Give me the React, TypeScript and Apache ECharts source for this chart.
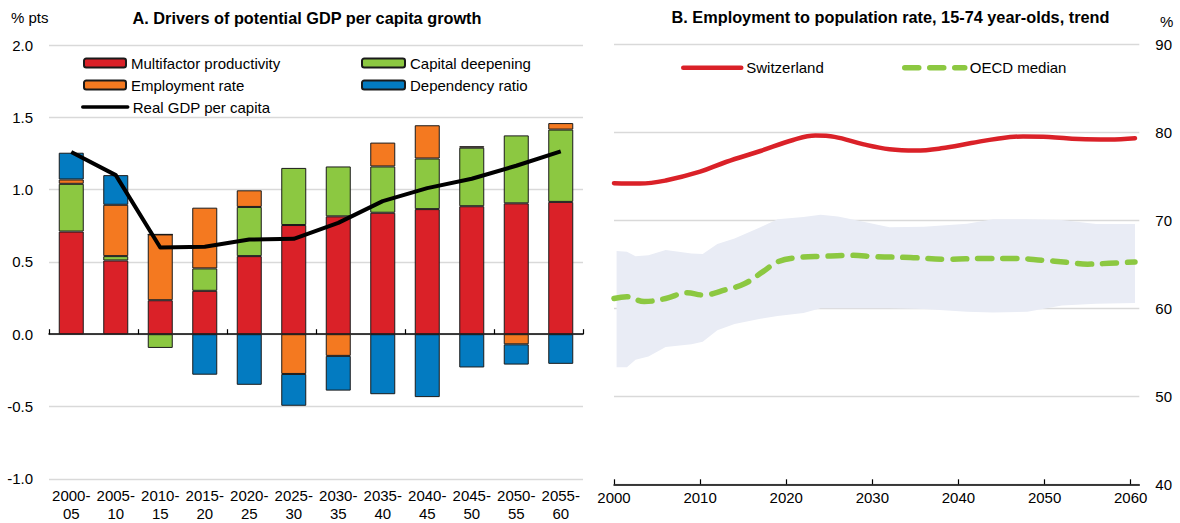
import React, { useEffect, useRef } from 'react';
import * as echarts from 'echarts';

// ---------- Panel A data ----------
const periods = ['2000-05', '2005-10', '2010-15', '2015-20', '2020-25', '2025-30', '2030-35', '2035-40', '2040-45', '2045-50', '2050-55', '2055-60'];
const mfp = [0.71, 0.51, 0.235, 0.30, 0.54, 0.755, 0.815, 0.84, 0.865, 0.885, 0.905, 0.915];
const capital = [0.33, 0.03, -0.095, 0.155, 0.34, 0.395, 0.345, 0.32, 0.35, 0.405, 0.47, 0.50];
const employment = [0.03, 0.355, 0.455, 0.42, 0.115, -0.275, -0.15, 0.165, 0.23, 0.01, -0.07, 0.045];
const dependency = [0.185, 0.205, 0, -0.28, -0.35, -0.22, -0.24, -0.415, -0.435, -0.23, -0.14, -0.205];
const gdpPerCapita = [1.26, 1.10, 0.60, 0.605, 0.655, 0.66, 0.77, 0.92, 1.01, 1.075, 1.165, 1.265];
const leftTicks = [-1, -0.5, 0, 0.5, 1, 1.5, 2];

// ---------- Panel B data ----------
const swissYears = [2000, 2003, 2006, 2010, 2013, 2017, 2020.8, 2023.4, 2025.6, 2029, 2032, 2035, 2038, 2041.5, 2044.5, 2047.5, 2050.5, 2054, 2057.5, 2060.5];
const swissValues = [74.2, 74.15, 74.5, 75.5, 76.6, 77.85, 79.1, 79.6, 79.45, 78.6, 78.05, 77.9, 78.15, 78.75, 79.25, 79.5, 79.45, 79.2, 79.15, 79.3];
const oecdYears = [2000, 2001.5, 2003.5, 2006, 2008.5, 2010.3, 2013, 2015.2, 2017.3, 2019.1, 2021.3, 2024.3, 2027.4, 2030.4, 2034.4, 2038.7, 2043, 2046.6, 2049.7, 2052.7, 2055, 2057.5, 2060.5];
const oecdValues = [61.1, 61.3, 60.75, 61.1, 61.75, 61.5, 62.1, 62.8, 64.15, 65.3, 65.75, 65.9, 66.0, 65.85, 65.75, 65.55, 65.65, 65.65, 65.45, 65.2, 65.0, 65.1, 65.25];
const bandYears = [2000.3, 2001.5, 2002.5, 2004, 2006, 2009, 2010.3, 2012, 2014, 2017, 2019, 2022, 2024, 2026, 2028, 2032, 2036, 2041, 2044, 2048, 2052, 2056, 2060.5];
const bandUpper = [66.5, 66.4, 65.9, 66.0, 66.6, 66.2, 66.15, 67.3, 67.9, 69.2, 70.1, 70.35, 70.6, 70.4, 70.0, 69.2, 69.25, 69.6, 70.1, 70.1, 70.0, 69.55, 69.55];
const bandLower = [53.3, 53.3, 54.15, 54.5, 55.6, 55.9, 56.2, 57.5, 58.2, 58.8, 59.1, 59.45, 60.0, 60.0, 60.0, 60.0, 59.9, 59.6, 59.5, 59.6, 60.3, 60.5, 60.6];
const yearTicks = [2000, 2010, 2020, 2030, 2040, 2050, 2060];

const FONT = '"Liberation Sans Narrow", "Arial Narrow", "Liberation Sans", Arial, sans-serif';
const RED = '#DA2128';
const GREEN = '#8CC841';
const ORANGE = '#F47920';
const BLUE = '#037BC1';
const BAND = '#E9ECF5';
const GRID = '#D9D9D9';
const FS = 15;
const TFS = 16.3;
const GREEN_DASH = [14, 11];

function buildOption(): any {
  const barBase = (name: string, data: number[], color: string) => ({
    name,
    type: 'bar',
    stack: 'drivers',
    xAxisIndex: 0,
    yAxisIndex: 0,
    barWidth: 25,
    data,
    itemStyle: { color, borderColor: '#1a1a1a', borderWidth: 1 },
  });
  const legendBase = (name: string, left: number, top: number, w: number, line?: any) => ({
    data: [name],
    left,
    top,
    padding: 0,
    itemWidth: w,
    itemHeight: 9,
    selectedMode: false,
    ...(line
      ? { itemStyle: { color: 'rgba(0,0,0,0)', borderWidth: 0, opacity: 0 }, lineStyle: line }
      : {}),
    textStyle: { fontFamily: FONT, fontSize: FS, color: '#000', lineHeight: 18 },
  });
  return {
    animation: false,
    backgroundColor: '#fff',
    textStyle: { fontFamily: FONT },
    grid: [
      { left: 49, top: 45, width: 534, height: 433.8 },
      { left: 614, top: 44, width: 525.3, height: 440.3 },
    ],
    legend: [
      legendBase('Multifactor productivity', 83, 54, 42),
      legendBase('Employment rate', 83, 76, 42),
      legendBase('Real GDP per capita', 81, 98, 45, { color: '#000', width: 3.5, type: 'solid', cap: 'round' }),
      legendBase('Capital deepening', 361, 54, 43),
      legendBase('Dependency ratio', 361, 76, 43),
      legendBase('Switzerland', 681, 58.7, 58, { color: RED, width: 4.5, type: 'solid', cap: 'round' }),
      legendBase('OECD median', 902, 58.7, 60, { color: GREEN, width: 5.5, type: GREEN_DASH, cap: 'round' }),
    ],
    xAxis: [
      {
        gridIndex: 0,
        type: 'category',
        data: periods,
        position: 'bottom',
        axisLine: { show: false, onZero: false },
        axisTick: { show: false },
        splitLine: { show: false },
        axisLabel: {
          interval: 0,
          margin: 8,
          color: '#000',
          fontFamily: FONT,
          fontSize: FS,
          lineHeight: 17.6,
          formatter: (v: string) => v.replace('-', '-\n'),
        },
      },
      {
        gridIndex: 0,
        type: 'category',
        data: periods,
        position: 'bottom',
        axisLine: { show: true, onZero: true, lineStyle: { color: '#000', width: 1.5 } },
        axisTick: { show: true, inside: true, length: 5, lineStyle: { color: '#000', width: 1.2 } },
        axisLabel: { show: false },
        splitLine: { show: false },
      },
      {
        gridIndex: 1,
        type: 'value',
        min: 2000,
        max: 2061,
        interval: 10,
        axisLine: { show: true, onZero: false, lineStyle: { color: '#000', width: 1.5 } },
        axisTick: { show: true, inside: true, length: 5, customValues: yearTicks, lineStyle: { color: '#000', width: 1.2 } },
        axisLabel: {
          color: '#000', fontFamily: FONT, fontSize: FS, margin: 6, customValues: yearTicks,
          formatter: (v: number) => String(Math.round(v)),
        },
        splitLine: { show: false },
      },
    ],
    yAxis: [
      {
        gridIndex: 0,
        type: 'value',
        min: -1,
        max: 2,
        interval: 0.5,
        axisLine: { show: false },
        axisTick: { show: false },
        axisLabel: {
          color: '#000',
          fontFamily: FONT,
          fontSize: FS,
          margin: 16,
          customValues: leftTicks,
          formatter: (v: number) => v.toFixed(1),
        },
        splitLine: { show: true, lineStyle: { color: GRID, width: 1.3 } },
      },
      {
        gridIndex: 1,
        type: 'value',
        position: 'right',
        min: 40,
        max: 90,
        interval: 10,
        axisLine: { show: false },
        axisTick: { show: false },
        axisLabel: { color: '#000', fontFamily: FONT, fontSize: FS, margin: 16 },
        splitLine: { show: true, lineStyle: { color: GRID, width: 1.3 } },
      },
    ],
    series: [
      barBase('Multifactor productivity', mfp, RED),
      barBase('Capital deepening', capital, GREEN),
      barBase('Employment rate', employment, ORANGE),
      barBase('Dependency ratio', dependency, BLUE),
      {
        name: 'Real GDP per capita',
        type: 'line',
        xAxisIndex: 0,
        yAxisIndex: 0,
        data: gdpPerCapita,
        symbol: 'none',
        z: 5,
        lineStyle: { color: '#000', width: 4, join: 'round' },
        itemStyle: { color: '#000' },
      },
      {
        name: 'band',
        type: 'custom',
        xAxisIndex: 2,
        yAxisIndex: 1,
        silent: true,
        z: 1,
        data: [[bandYears[0], bandLower[0]]],
        encode: { x: 0, y: 1 },
        renderItem: (_params: any, api: any) => {
          const pts: number[][] = [];
          for (let i = 0; i < bandYears.length; i++) pts.push(api.coord([bandYears[i], bandUpper[i]]));
          for (let i = bandYears.length - 1; i >= 0; i--) pts.push(api.coord([bandYears[i], bandLower[i]]));
          return { type: 'polygon', shape: { points: pts }, style: { fill: BAND } };
        },
      },
      {
        name: 'Switzerland',
        type: 'line',
        xAxisIndex: 2,
        yAxisIndex: 1,
        data: swissYears.map((y, i) => [y, swissValues[i]]),
        symbol: 'none',
        smooth: 0.4,
        z: 4,
        lineStyle: { color: RED, width: 4.5, cap: 'round' },
        itemStyle: { color: RED },
      },
      {
        name: 'OECD median',
        type: 'line',
        xAxisIndex: 2,
        yAxisIndex: 1,
        data: oecdYears.map((y, i) => [y, oecdValues[i]]),
        symbol: 'none',
        smooth: 0.4,
        z: 4,
        lineStyle: { color: GREEN, width: 5.5, type: GREEN_DASH, cap: 'round' },
        itemStyle: { color: GREEN },
      },
    ],
    graphic: [
      { type: 'text', left: 11, top: 10, style: { text: '% pts', font: `${FS}px ${FONT}`, fill: '#000' } },
      { type: 'text', left: 1160, top: 14, style: { text: '%', font: `${FS}px ${FONT}`, fill: '#000' } },
      {
        type: 'text', x: 307, y: 17.5,
        style: { text: 'A. Drivers of potential GDP per capita growth', font: `bold ${TFS}px ${FONT}`, fill: '#000', align: 'center', verticalAlign: 'middle' },
      },
      {
        type: 'text', x: 890.5, y: 16.5,
        style: { text: 'B. Employment to population rate, 15-74 year-olds, trend', font: `bold ${TFS}px ${FONT}`, fill: '#000', align: 'center', verticalAlign: 'middle' },
      },
    ],
  };
}

export default function App() {
  const ref = useRef<HTMLDivElement>(null);
  useEffect(() => {
    if (!ref.current) return;
    const chart = echarts.init(ref.current, null, { renderer: 'svg' });
    chart.setOption(buildOption());
    return () => chart.dispose();
  }, []);
  return (
    <div
      ref={ref}
      style={{ position: 'fixed', left: 0, top: 0, width: 1180, height: 523, background: '#fff' }}
    />
  );
}
